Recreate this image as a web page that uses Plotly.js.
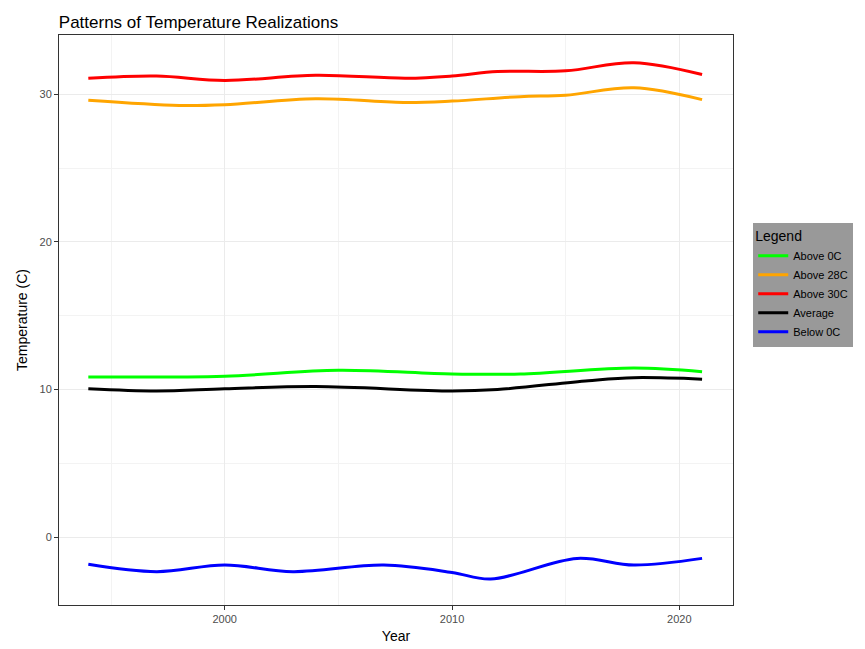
<!DOCTYPE html>
<html><head><script src="https://cdn.plot.ly/plotly-3.0.1.min.js"></script></head>
<body style="margin:0"><div id="c" style="width:865px;height:649px"></div>
<script>
const yrsRed=[1994,1997,2000,2004,2008,2010,2012,2015,2018,2021];
const red=[31.1,31.25,30.95,31.3,31.1,31.25,31.55,31.6,32.15,31.35];
const yrsOrange=[1994,1998,2000,2004,2008,2010,2013,2015,2018,2021];
const orange=[29.6,29.25,29.3,29.7,29.45,29.55,29.85,29.95,30.45,29.65];
const yrsGreen=[1994,2000,2005,2010,2013,2018,2021];
const green=[10.85,10.9,11.3,11.05,11.05,11.45,11.2];
const yrsBlack=[1994,1997,2000,2004,2010,2012,2016,2018,2021];
const black=[10.05,9.9,10.05,10.2,9.9,10.0,10.6,10.8,10.7];
const yrsBlue=[1994,1997,2000,2003,2007,2010,2011.7,2015.5,2018,2021];
const blue=[-1.85,-2.35,-1.9,-2.35,-1.9,-2.4,-2.85,-1.45,-1.9,-1.45];
const names=["Above 0C","Above 28C","Above 30C","Average","Below 0C"];
const series=[[yrsGreen,green,"#00ff00"],[yrsOrange,orange,"#ffa500"],[yrsRed,red,"#ff0000"],[yrsBlack,black,"#000000"],[yrsBlue,blue,"#0000ff"]];
const traces=series.map((s,i)=>({x:s[0],y:s[1],name:names[i],mode:"lines",line:{color:s[2],width:3,shape:"spline",smoothing:1}}));
const ax={showline:true,linecolor:"#333",mirror:true,gridcolor:"#ebebeb",zeroline:false,ticks:"outside",ticklen:4,tickcolor:"#333",tickfont:{size:11,color:"#4d4d4d"}};
Plotly.newPlot("c",traces,{
 width:865,height:649,paper_bgcolor:"#fff",plot_bgcolor:"#fff",
 font:{family:"Liberation Sans, Arial, sans-serif",color:"#000"},
 margin:{l:59,r:123,t:35,b:44},
 title:{text:"Patterns of Temperature Realizations",x:0.068,xanchor:"left",y:0.975,font:{size:17}},
 xaxis:Object.assign({},ax,{range:[1992.71,2022.36],tickvals:[2000,2010,2020],title:{text:"Year",font:{size:14},standoff:6},minor:{tickvals:[1995,2005,2015],showgrid:true,gridcolor:"#f3f3f3"}}),
 yaxis:Object.assign({},ax,{range:[-4.61,34.03],tickvals:[0,10,20,30],title:{text:"Temperature (C)",font:{size:14},standoff:8},minor:{tickvals:[-5,5,15,25],showgrid:true,gridcolor:"#f3f3f3"}}),
 legend:{x:1.03,y:0.67,yanchor:"top",bgcolor:"#999999",itemwidth:30,title:{text:"Legend",font:{size:14}},font:{size:11}}
},{displayModeBar:false});
</script></body></html>
